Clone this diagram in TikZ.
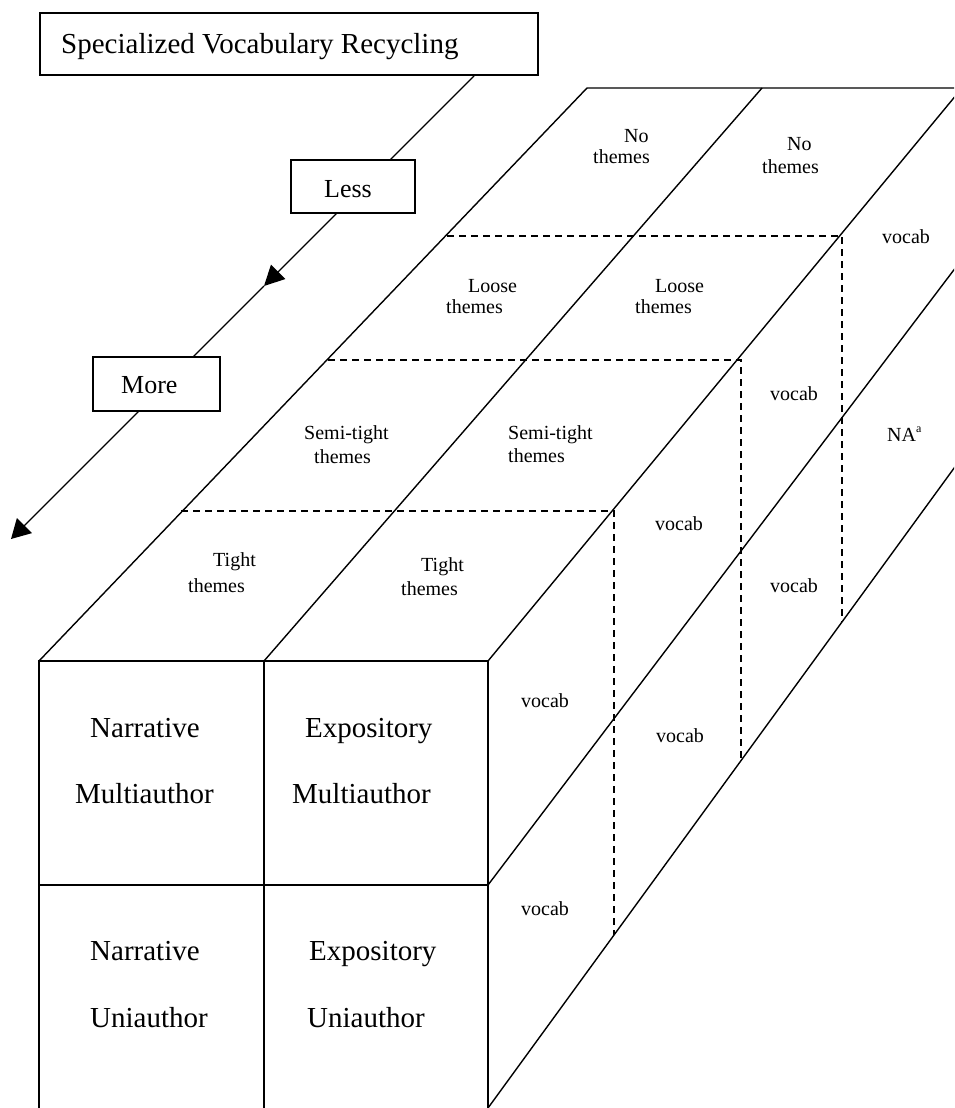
\documentclass[tikz,border=0pt]{standalone}
\usepackage{fontspec}
\setmainfont{Liberation Serif}
\usetikzlibrary{arrows.meta}
\begin{document}
\begin{tikzpicture}[x=1pt,y=-1pt,
  edge/.style={line width=1.4pt},
  dline/.style={line width=1.3pt, dash pattern=on 7pt off 5pt},
  boxframe/.style={draw, line width=1.4pt, fill=white, inner sep=0pt},
  big/.style={font=\fontsize{29}{34}\selectfont, inner sep=0pt, anchor=base west},
  mid/.style={font=\fontsize{26}{30}\selectfont, inner sep=0pt, anchor=base west},
  small/.style={font=\fontsize{20}{24}\selectfont, inner sep=0pt, anchor=base west}]
\clip (0,0) rectangle (954,1108);
\fill[white] (0,0) rectangle (954,1108);

% ---------- cube corners ----------
\coordinate (F1) at (39,661);
\coordinate (F2) at (264,661);
\coordinate (F3) at (488,661);
\coordinate (F4) at (488,885);
\coordinate (F5) at (488,1108);
\coordinate (L1) at (39,1112);
\coordinate (L2) at (264,1112);
\coordinate (L3) at (488,1112);
\coordinate (M1) at (39,885);
\coordinate (B1) at (587,88);
\coordinate (B2) at (762,88);
\coordinate (B3) at (962,88);
\coordinate (R4) at (1000,209);
\coordinate (R5) at (1000,405);

% front face
\draw[edge] (L1) -- (F1) -- (F3) -- (L3);
\draw[edge] (F2) -- (L2);
\draw[edge] (M1) -- (F4);
% top face
\draw[edge] (F1) -- (B1) -- (B3);
\draw[edge] (F2) -- (B2);
\draw[edge] (F3) -- (B3);
% right face
\draw[edge] (F4) -- (R4);
\draw[edge] (F5) -- (R5);

% dashed divisions
\coordinate (D1a) at (181,511); \coordinate (D1b) at (614,511); \coordinate (D1c) at (614,935);
\coordinate (D2a) at (328,360); \coordinate (D2b) at (741,360); \coordinate (D2c) at (741,762);
\coordinate (D3a) at (447,236); \coordinate (D3b) at (842,236); \coordinate (D3c) at (842,622);
\draw[dline] (D1a) -- (D1b) -- (D1c);
\draw[dline] (D2a) -- (D2b) -- (D2c);
\draw[dline] (D3a) -- (D3b) -- (D3c);

% ---------- axis arrow ----------
\coordinate (A0) at (474,76);
\coordinate (Am) at (264,286);
\coordinate (A1) at (11,539);
\draw[edge, -{Triangle[length=20pt,width=20pt]}] (A0) -- (Am);
\draw[edge, -{Triangle[length=19pt,width=21pt]}] (Am) -- (A1);

% boxes
\node[boxframe, minimum width=498pt, minimum height=62pt] (title) at (289,44) {};
\node[big] (titletext) at (61,53) {Specialized Vocabulary Recycling};
\node[boxframe, minimum width=124pt, minimum height=53pt] (less) at (353,186.5) {};
\node[mid] (lesstext) at (324,197) {Less};
\node[boxframe, minimum width=127pt, minimum height=54pt] (more) at (156.5,384) {};
\node[mid] (moretext) at (121,393) {More};

% ---------- top face labels ----------
\node[small] (no1a) at (624,142) {No};
\node[small] (no1b) at (593,163) {themes};
\node[small] (no2a) at (787,150) {No};
\node[small] (no2b) at (762,173) {themes};
\node[small] (lo1a) at (468,292) {Loose};
\node[small] (lo1b) at (446,313) {themes};
\node[small] (lo2a) at (655,292) {Loose};
\node[small] (lo2b) at (635,313) {themes};
\node[small] (se1a) at (304,439) {Semi-tight};
\node[small] (se1b) at (314,463) {themes};
\node[small] (se2a) at (508,439) {Semi-tight};
\node[small] (se2b) at (508,462) {themes};
\node[small] (ti1a) at (213,566) {Tight};
\node[small] (ti1b) at (188,592) {themes};
\node[small] (ti2a) at (421,571) {Tight};
\node[small] (ti2b) at (401,595) {themes};

% ---------- right face labels ----------
\node[small] (v1) at (882,243) {vocab};
\node[small] (v2) at (770,400) {vocab};
\node[small] (na) at (887,441) {NA{\fontsize{12}{12}\selectfont\raisebox{9pt}{a}}};
\node[small] (v3) at (655,530) {vocab};
\node[small] (v4) at (770,592) {vocab};
\node[small] (v5) at (521,707) {vocab};
\node[small] (v6) at (656,742) {vocab};
\node[small] (v7) at (521,915) {vocab};

% ---------- front face labels ----------
\node[big] (f1a) at (90,737) {Narrative};
\node[big] (f1b) at (75,803) {Multiauthor};
\node[big] (f2a) at (305,737) {Expository};
\node[big] (f2b) at (292,803) {Multiauthor};
\node[big] (f3a) at (90,960) {Narrative};
\node[big] (f3b) at (90,1027) {Uniauthor};
\node[big] (f4a) at (309,960) {Expository};
\node[big] (f4b) at (307,1027) {Uniauthor};
\end{tikzpicture}
\end{document}
